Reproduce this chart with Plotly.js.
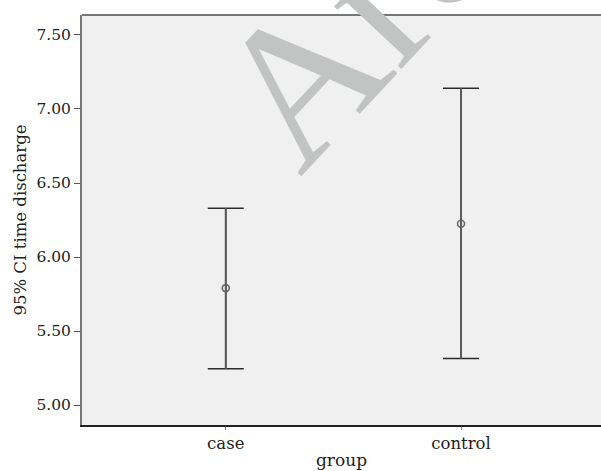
<!DOCTYPE html>
<html>
<head>
<meta charset="utf-8">
<script src="https://cdn.plot.ly/plotly-3.0.1.min.js"></script>
<style>html,body{margin:0;padding:0;background:#fff;}#chart{width:601px;height:471px;}</style>
</head>
<body>
<div id="chart"></div>
<script>
const groups = ['case', 'control'];
const means = [5.79, 6.225];
const upperCI = [6.33, 7.14];
const lowerCI = [5.245, 5.315];
const yTicks = [5.00, 5.50, 6.00, 6.50, 7.00, 7.50];
const yTickLabels = ['5.00', '5.50', '6.00', '6.50', '7.00', '7.50'];

const plus = upperCI.map((u, i) => u - means[i]);
const minus = lowerCI.map((l, i) => means[i] - l);

const font = 'DejaVu Serif, serif';

const traces = [
  {
    x: groups, y: means, type: 'scatter', mode: 'markers',
    marker: {size: 0.1, color: 'rgba(0,0,0,0)'},
    error_y: {type: 'data', symmetric: false, array: plus, arrayminus: minus,
              color: '#2a2a2a', thickness: 1.5, width: 18},
    hoverinfo: 'none', showlegend: false
  },
  {
    x: groups, y: means, type: 'scatter', mode: 'markers',
    marker: {symbol: 'circle-open', size: 7, color: '#666', line: {width: 1.6, color: '#666'}},
    error_y: {type: 'data', symmetric: false, array: plus, arrayminus: minus,
              color: '#5c5c5c', thickness: 2, width: 0},
    showlegend: false
  }
];

const layout = {
  width: 601, height: 471,
  margin: {l: 82, r: 0, t: 15, b: 46, pad: 0},
  paper_bgcolor: '#ffffff',
  plot_bgcolor: '#eff0ef',
  font: {family: font, size: 16, color: '#222'},
  showlegend: false,
  xaxis: {
    type: 'category', range: [-0.611, 1.595],
    showgrid: false, zeroline: false,
    showline: true, linecolor: '#222', linewidth: 1.5,
    ticks: 'outside', ticklen: 3, tickcolor: '#888', tickwidth: 1,
    tickfont: {family: font, size: 16.5, color: '#222'},
    title: {text: 'group', font: {family: font, size: 17, color: '#222'}, standoff: 2}
  },
  yaxis: {
    range: [4.865, 7.635],
    tickvals: yTicks, ticktext: yTickLabels,
    showgrid: false, zeroline: false,
    showline: true, linecolor: '#777', linewidth: 2,
    ticks: 'outside', ticklen: 6, tickcolor: '#555', tickwidth: 1,
    tickfont: {family: font, size: 15.5, color: '#222'},
    title: {text: '95% CI time discharge', font: {family: font, size: 16.5, color: '#222'}, standoff: 6}
  },
  shapes: [
    {type: 'line', xref: 'paper', yref: 'paper', x0: 0, x1: 1, y0: 1, y1: 1,
     line: {color: '#777', width: 2}}
  ],
  annotations: [
    {text: 'Archive', xref: 'paper', yref: 'paper', x: 0.747, y: 1.29,
     xanchor: 'center', yanchor: 'middle', showarrow: false, textangle: -47,
     font: {family: 'Liberation Serif, serif', size: 200, color: '#c2c3c3'}}
  ]
};

Plotly.newPlot('chart', traces, layout, {displayModeBar: false, staticPlot: true});
</script>
</body>
</html>
